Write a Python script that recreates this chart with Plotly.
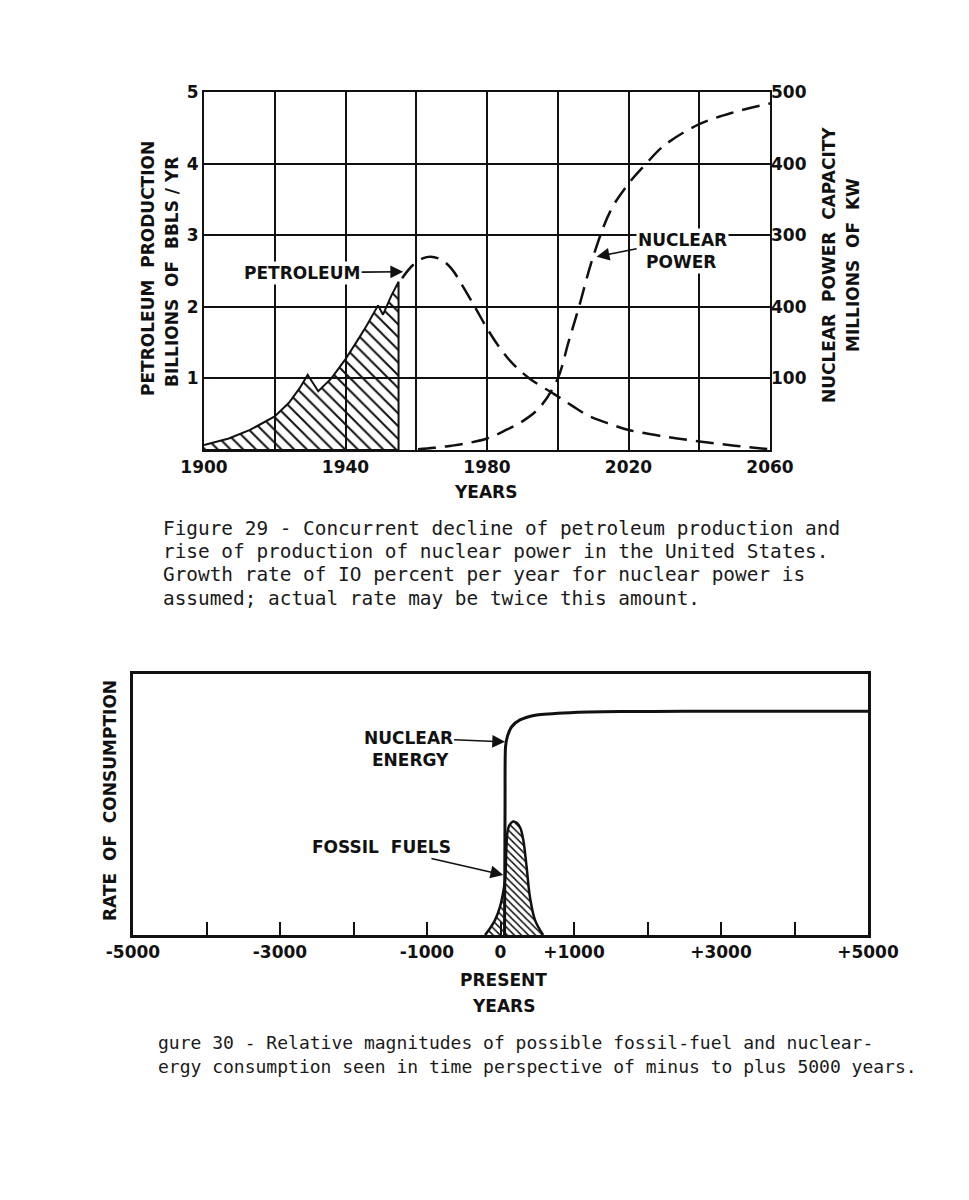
import plotly.graph_objects as go

W, H = 969, 1200
PAGE_OFFSET = 8   # default body margin of the html page

# ---- Figure 29 data ----
pet_hist_years = [1900, 1907, 1913, 1920, 1924, 1927, 1929.3, 1932.3, 1936, 1940, 1943, 1946, 1949.2, 1950.6, 1953, 1955]
pet_hist_vals = [0.07, 0.16, 0.28, 0.47, 0.66, 0.86, 1.05, 0.82, 1.0, 1.27, 1.5, 1.74, 2.02, 1.89, 2.16, 2.35]

pet_proj_years = [1956, 1959, 1962, 1964, 1967, 1970, 1973, 1977, 1980, 1983, 1987, 1992, 1999, 2004, 2009, 2015, 2020, 2030, 2040, 2050, 2060]
pet_proj_vals = [2.40, 2.58, 2.68, 2.70, 2.66, 2.53, 2.30, 1.96, 1.70, 1.47, 1.22, 1.0, 0.78, 0.62, 0.47, 0.36, 0.28, 0.19, 0.12, 0.06, 0.01]

nuc_power_years = [1960.5, 1965, 1970, 1975, 1980, 1985, 1990, 1995, 2000, 2003, 2006, 2010, 2015, 2020, 2025, 2030, 2040, 2050, 2060]
nuc_power_vals = [1, 3, 6, 10, 16, 27, 40, 60, 100, 150, 200, 270, 335, 372, 400, 425, 455, 472, 484]

year_ticks = [1900, 1920, 1940, 1960, 1980, 2000, 2020, 2040, 2060]
year_labels = ["1900", "", "1940", "", "1980", "", "2020", "", "2060"]
left_ticks = [0, 1, 2, 3, 4, 5]
left_labels = ["", "1", "2", "3", "4", "5"]
right_ticks = [100, 200, 300, 400, 500]
right_labels = ["100", "400", "300", "400", "500"]   # as printed

# ---- Figure 30 data ----
fossil_years = [-210, -140, -75, -5, 40, 62, 93, 120, 170, 220, 270, 310, 355, 400, 470, 580]
fossil_vals = [0, 2.7, 5.7, 11, 17, 21, 39, 42, 43.5, 43, 41, 36.4, 26.2, 14.7, 5.7, 0]

nuc_energy_years = [55, 62, 68, 93, 152, 265, 492, 945, 1626, 2500, 3500, 5000]
nuc_energy_vals = [0, 50, 72, 76, 79.8, 82.4, 84.3, 85.2, 85.6, 85.7, 85.7, 85.7]

present_ticks = [-5000, -4000, -3000, -2000, -1000, 0, 1000, 2000, 3000, 4000, 5000]
present_labels = ["-5000", "", "-3000", "", "-1000", "0", "+1000", "", "+3000", "", "+5000"]

caption29 = [
    "Figure 29 - Concurrent decline of petroleum production and",
    "rise of production of nuclear power in the United States.",
    "Growth rate of IO percent per year for nuclear power is",
    "assumed; actual rate may be twice this amount.",
]
caption30 = [
    "gure 30 - Relative magnitudes of possible fossil-fuel and nuclear-",
    "ergy consumption seen in time perspective of minus to plus 5000 years.",
]

INK = "#111111"
LETTER = dict(family="DejaVu Sans", size=17, color=INK, weight="bold")


def px(x):
    return (x - PAGE_OFFSET) / W


def py(y):
    return 1 - (y - PAGE_OFFSET) / H


fig = go.Figure()

# petroleum history, hatched
fig.add_trace(go.Scatter(
    x=pet_hist_years + [pet_hist_years[-1], pet_hist_years[0]],
    y=pet_hist_vals + [0, 0],
    mode="lines", fill="toself", fillcolor="rgba(0,0,0,0)",
    fillpattern=dict(shape="\\", fgcolor=INK, fgopacity=1, bgcolor="rgba(0,0,0,0)", size=9, solidity=0.22),
    line=dict(color=INK, width=2), xaxis="x", yaxis="y", showlegend=False,
))
fig.add_trace(go.Scatter(
    x=pet_proj_years, y=pet_proj_vals, mode="lines",
    line=dict(color=INK, width=2.5, dash="18px,9px", shape="spline"),
    xaxis="x", yaxis="y", showlegend=False,
))
fig.add_trace(go.Scatter(
    x=nuc_power_years, y=nuc_power_vals, mode="lines",
    line=dict(color=INK, width=2.5, dash="18px,9px", shape="spline"),
    xaxis="x", yaxis="y2", showlegend=False,
))

# figure 30
fig.add_trace(go.Scatter(
    x=fossil_years, y=fossil_vals, mode="lines", fill="toself", fillcolor="rgba(0,0,0,0)",
    fillpattern=dict(shape="\\", fgcolor=INK, fgopacity=1, bgcolor="rgba(0,0,0,0)", size=5, solidity=0.3),
    line=dict(color=INK, width=2.5, shape="spline"), xaxis="x3", yaxis="y3", showlegend=False,
))
fig.add_trace(go.Scatter(
    x=nuc_energy_years, y=nuc_energy_vals, mode="lines",
    line=dict(color=INK, width=3, shape="spline", smoothing=0.6),
    xaxis="x3", yaxis="y3", showlegend=False,
))

box = dict(showline=True, linecolor=INK, mirror=True, zeroline=False, automargin=False)

fig.update_layout(
    width=W, height=H,
    margin=dict(l=0, r=0, t=0, b=0, autoexpand=False),
    paper_bgcolor="white", plot_bgcolor="white",
    showlegend=False,
    xaxis=dict(domain=[px(204), px(770)], range=[1900, 2060], anchor="y",
               tickvals=year_ticks, ticktext=year_labels, tickfont=LETTER,
               showgrid=True, gridcolor=INK, gridwidth=1.8, linewidth=2.2, ticks="", **box),
    yaxis=dict(domain=[py(450), py(92)], range=[0, 5], anchor="x",
               tickvals=left_ticks, ticktext=left_labels, tickfont=LETTER,
               showgrid=True, gridcolor=INK, gridwidth=1.8, linewidth=2.2, ticks="", **box),
    yaxis2=dict(overlaying="y", side="right", anchor="x", range=[0, 500],
                tickvals=right_ticks, ticktext=right_labels, tickfont=LETTER,
                showgrid=False, zeroline=False, showline=False, ticks="", automargin=False),
    xaxis3=dict(domain=[px(133), px(868)], range=[-5000, 5000], anchor="y3",
                tickvals=present_ticks, ticktext=present_labels, tickfont=LETTER,
                ticks="inside", ticklen=13, tickwidth=1.6, tickcolor=INK,
                showgrid=False, linewidth=2.6, **box),
    yaxis3=dict(domain=[py(935), py(674)], range=[0, 100], anchor="x3",
                showticklabels=False, ticks="", showgrid=False, linewidth=2.6, **box),
)


def label(x, y, text, angle=0, font=LETTER, xanchor="center", bg=None):
    fig.add_annotation(x=px(x), y=py(y), xref="paper", yref="paper", text=text,
                       showarrow=False, textangle=angle, font=font,
                       xanchor=xanchor, yanchor="middle", bgcolor=bg)


ARROW = dict(showarrow=True, arrowhead=2, arrowsize=1.6, arrowwidth=1.6, arrowcolor=INK)

# axis titles, figure 29
label(148, 269, "PETROLEUM  PRODUCTION", angle=-90)
label(172, 272, "BILLIONS  OF  BBLS / YR", angle=-90)
label(829, 265, "NUCLEAR  POWER  CAPACITY", angle=-90)
label(853, 265, "MILLIONS  OF  KW", angle=-90)
label(485, 492, "YEARS")

# curve labels, figure 29
fig.add_annotation(x=1956.3, y=2.49, xref="x", yref="y", text="PETROLEUM", font=LETTER,
                   ax=-101, ay=1, bgcolor="white", **ARROW)
fig.add_annotation(x=2011.0, y=2.70, xref="x", yref="y", text="NUCLEAR", font=LETTER,
                   ax=86, ay=-17, bgcolor="white", **ARROW)
label(681, 262, "POWER", bg="white")

# axis titles, figure 30
label(110, 801, "RATE  OF  CONSUMPTION", angle=-90)
label(503, 980, "PRESENT")
label(503, 1006, "YEARS")

# curve labels, figure 30
fig.add_annotation(x=62, y=74, xref="x3", yref="y3", text="NUCLEAR", font=LETTER,
                   ax=-97, ay=-4, **ARROW)
label(410, 760, "ENERGY")
fig.add_annotation(x=38, y=23, xref="x3", yref="y3", text="FOSSIL  FUELS", font=LETTER,
                   ax=-122, ay=-28, **ARROW)

# captions (typewritten)
CAP29 = dict(family="DejaVu Sans Mono", size=19.4, color="#1a1a1a")
CAP30 = dict(family="DejaVu Sans Mono", size=18, color="#1a1a1a")
for i, line in enumerate(caption29):
    label(161, 528 + i * 23.4, line, font=CAP29, xanchor="left")
for i, line in enumerate(caption30):
    label(156, 1042 + i * 24, line, font=CAP30, xanchor="left")

fig.write_html("out.html")
